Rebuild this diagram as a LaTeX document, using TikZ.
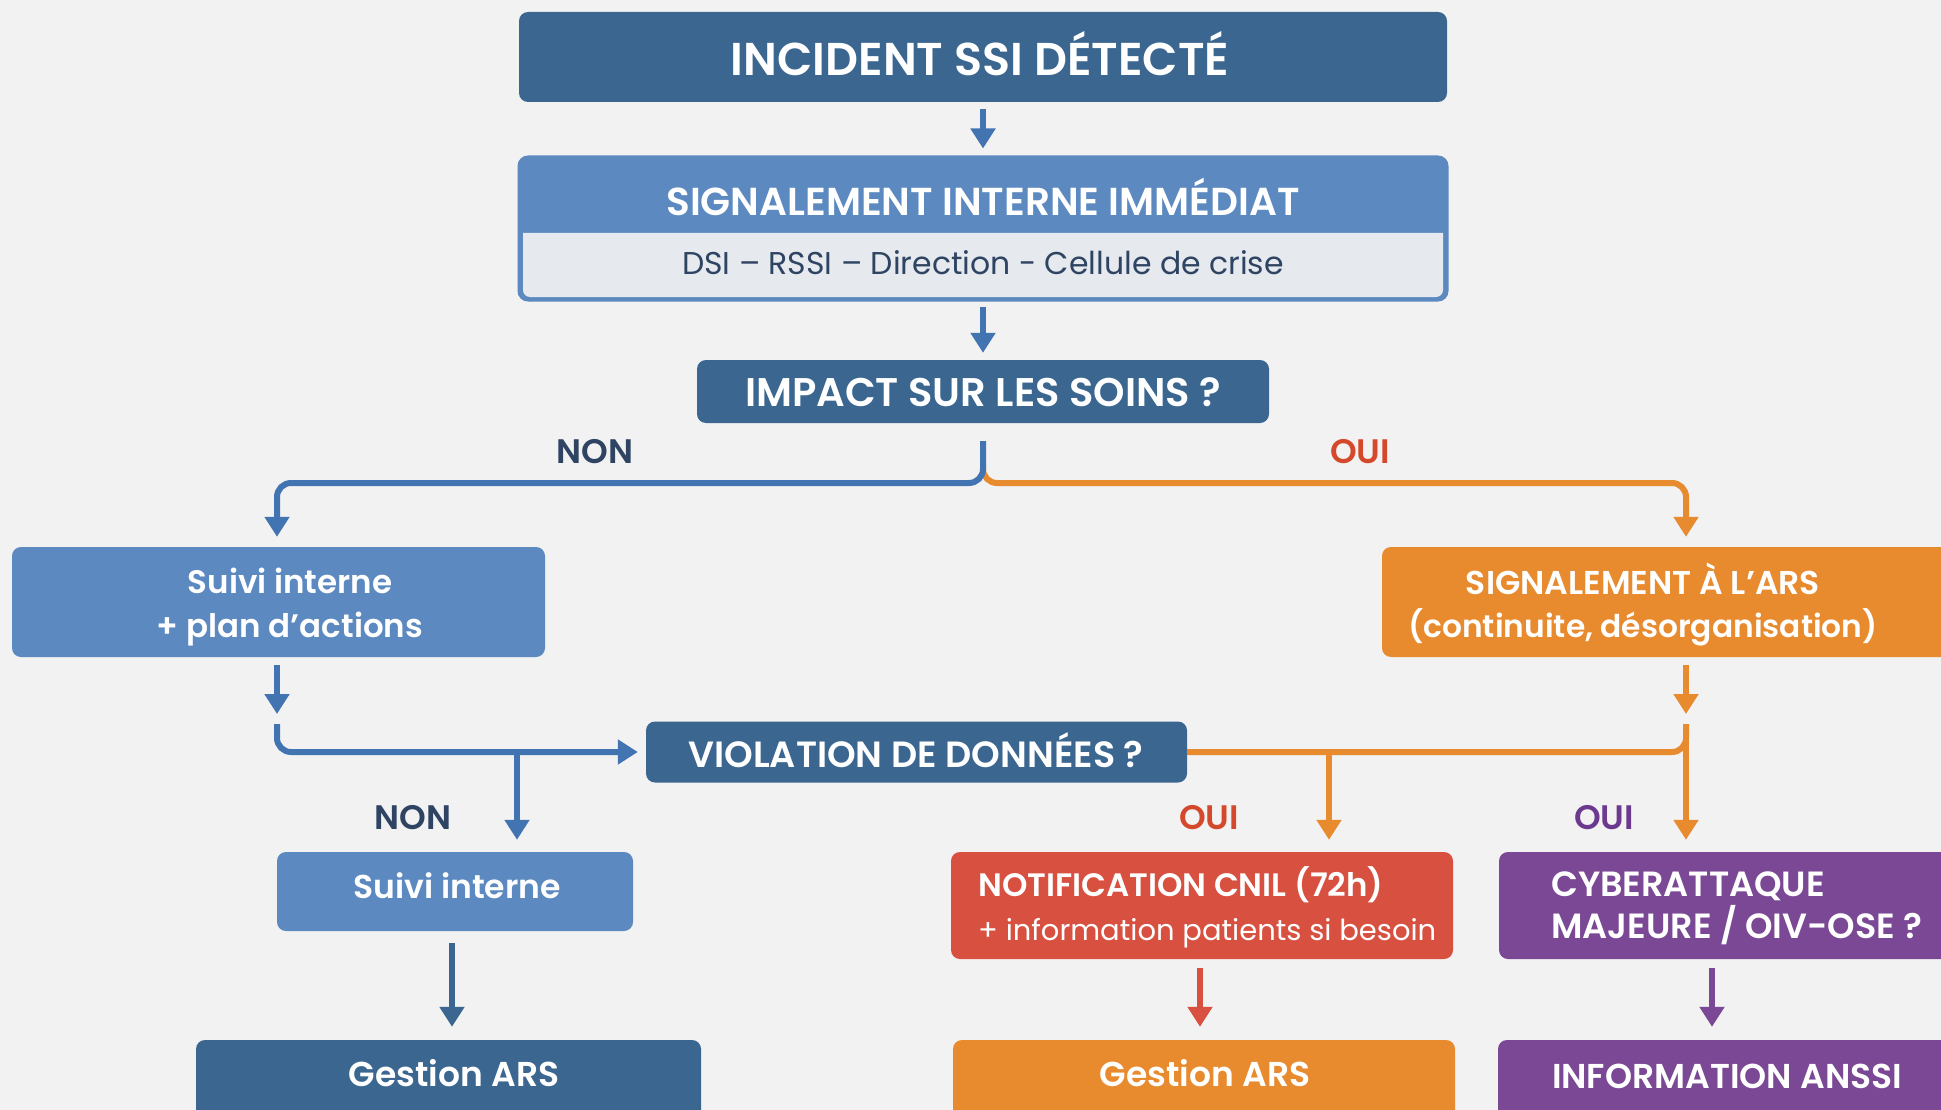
\documentclass[tikz,border=0pt]{standalone}
\usepackage{fontspec}
\setmainfont{Poppins}[BoldFont={* SemiBold}]
\usetikzlibrary{arrows.meta,calc}
\definecolor{bg}{HTML}{F2F2F2}
\definecolor{dblue}{HTML}{3A6690}
\definecolor{mblue}{HTML}{5B89C0}
\definecolor{ablue}{HTML}{4274B2}
\definecolor{lgray}{HTML}{E6E9EE}
\definecolor{orng}{HTML}{E88A2E}
\definecolor{rred}{HTML}{D8503F}
\definecolor{purp}{HTML}{7A4894}
\definecolor{navy}{HTML}{2E4462}
\definecolor{ouired}{HTML}{D4492C}
\definecolor{ouipurp}{HTML}{6B3A8F}
\newcommand{\fsz}[2]{\fontsize{#1}{#2}\selectfont}
\tikzset{
  boxnode/.style={rectangle, rounded corners=9pt, inner sep=0pt, text=white, font=\bfseries\fsz{30}{40}},
  txt/.style={inner sep=0pt, text=white, font=\bfseries\fsz{30}{40}},
  lbl/.style={inner sep=0pt, font=\bfseries\fsz{34}{38}},
  conn/.style={line width=6pt, -{Triangle[width=24pt,length=20pt]}},
  plain/.style={line width=6pt, rounded corners=14pt},
}
\begin{document}
\begin{tikzpicture}[x=1pt,y=-1pt]
\clip (0,0) rectangle (1941,1110);
\fill[bg] (0,0) rectangle (1941,1110);

% boxes
\node[boxnode, fill=dblue, minimum width=928pt, minimum height=90pt] (inc) at (983,57) {};
\node[txt, font=\bfseries\fsz{46}{50}] (inct) at (980,54) {INCIDENT SSI DÉTECTÉ};

\node[boxnode, fill=mblue, draw=mblue, line width=3pt, minimum width=928pt, minimum height=143pt] (sig) at (983,228.5) {};
\fill[lgray] (523,233) -- (1443,233) [rounded corners=7pt] -- (1443,297) -- (523,297) [sharp corners] -- cycle;
\node[txt, font=\bfseries\fsz{39}{44}] (sigh) at (983,197) {SIGNALEMENT INTERNE IMMÉDIAT};
\node[txt, text=navy, font=\fsz{31.5}{40}] (sigs) at (983,263) {DSI – RSSI – Direction - Cellule de crise};

\node[boxnode, fill=dblue, minimum width=572pt, minimum height=63pt] (imp) at (983,391.5) {};
\node[txt, font=\bfseries\fsz{40}{44}] (impt) at (983,392) {IMPACT SUR LES SOINS ?};

\node[boxnode, fill=mblue, minimum width=533pt, minimum height=110pt] (suivi1) at (278.5,602) {};
\node[txt, align=center, font=\bfseries\fsz{32.5}{44}] (suivi1t) at (290,607) {Suivi interne\\+ plan d'actions};

\node[boxnode, fill=orng, minimum width=583pt, minimum height=110pt] (ars) at (1673.5,602) {};
\node[txt, align=center, font=\bfseries\fsz{33}{43}] (arst) at (1643,604) {SIGNALEMENT À L’ARS\\\fsz{31.3}{43}(continuite, désorganisation)};

\node[boxnode, fill=dblue, minimum width=541pt, minimum height=61pt] (viol) at (916.5,752) {};
\node[txt, font=\bfseries\fsz{36.5}{40}] (violt) at (916,750) {VIOLATION DE DONNÉES ?};

\node[boxnode, fill=mblue, minimum width=356pt, minimum height=79pt] (suivi2) at (455,891.5) {};
\node[txt, font=\bfseries\fsz{33}{40}] (suivi2t) at (457,886) {Suivi interne};

\node[boxnode, fill=rred, minimum width=502pt, minimum height=107pt] (cnil) at (1202,905.5) {};
\node[txt, anchor=west, align=left, font=\bfseries\fsz{32.4}{44}] (cnilt) at (978,907) {NOTIFICATION CNIL (72h)\\\mdseries\fsz{29}{44}+ information patients si besoin};

\node[boxnode, fill=purp, minimum width=466pt, minimum height=107pt] (cyber) at (1732,905.5) {};
\node[txt, anchor=west, align=left, font=\bfseries\fsz{35}{42}] (cybert) at (1551,908) {CYBERATTAQUE\\MAJEURE / OIV-OSE ?};

\node[boxnode, fill=dblue, minimum width=505pt, minimum height=90pt] (gest1) at (448.5,1085) {};
\node[txt, font=\bfseries\fsz{34.5}{40}] (gest1t) at (454,1073) {Gestion ARS};
\node[boxnode, fill=orng, minimum width=502pt, minimum height=90pt] (gest2) at (1204,1085) {};
\node[txt, font=\bfseries\fsz{34.5}{40}] (gest2t) at (1205,1073) {Gestion ARS};
\node[boxnode, fill=purp, minimum width=467pt, minimum height=90pt] (anssi) at (1731.5,1085) {};
\node[txt, font=\bfseries\fsz{34.5}{40}] (anssit) at (1727,1076) {INFORMATION ANSSI};

% labels
\node[lbl, text=navy] (non1) at (595,452) {NON};
\node[lbl, text=ouired] (oui1) at (1360,452) {OUI};
\node[lbl, text=navy] (non2) at (413,818) {NON};
\node[lbl, text=ouired] (oui2) at (1209,818) {OUI};
\node[lbl, text=ouipurp] (oui3) at (1604,818) {OUI};

% coordinates
\coordinate (b1) at (983,441);
\coordinate (b1o) at (983,468);
\coordinate (j1) at (277,724);
\coordinate (j2) at (1686,724);
\coordinate (t1) at (517,752);
\coordinate (t2) at (1329,752);

% connectors
\draw[conn, ablue] ([yshift=-7pt]inc.south) -- ([yshift=7pt]sig.north);
\draw[conn, ablue] ([yshift=-5pt]sig.south) -- ([yshift=7pt]imp.north);

\draw[plain, orng, -{Triangle[width=24pt,length=20pt]}] (b1o) -- (983,483) -- (1686,483) -- ([yshift=10pt]ars.north -| j2);
\draw[plain, ablue, -{Triangle[width=24pt,length=20pt]}] (b1) -- (983,483) -- (277,483) -- ([yshift=10pt]suivi1.north -| j1);

\draw[conn, ablue] ([yshift=-8pt]suivi1.south -| j1) -- (277,714);
\draw[plain, ablue, -{Triangle[width=24pt,length=20pt]}] (j1) -- (j1 |- viol.west) -- ([xshift=-8pt]viol.west);
\draw[conn, ablue] (t1) -- ([yshift=12pt]suivi2.north -| t1);

\draw[conn, orng] ([yshift=-8pt]ars.south -| j2) -- (1686,714);
\draw[plain, orng] (j2) -- (j2 |- viol.east) -- (viol.east);
\draw[conn, orng] (j2) -- ([yshift=12pt]cyber.north -| j2);
\draw[conn, orng] (t2) -- ([yshift=12pt]cnil.north -| t2);

\coordinate (a1) at (452,0);
\coordinate (a2) at (1200,0);
\coordinate (a3) at (1712,0);
\draw[conn, dblue] ([yshift=-12pt]suivi2.south -| a1) -- ([yshift=13pt]gest1.north -| a1);
\draw[conn, rred] ([yshift=-9pt]cnil.south -| a2) -- ([yshift=13pt]gest2.north -| a2);
\draw[conn, purp] ([yshift=-9pt]cyber.south -| a3) -- ([yshift=13pt]anssi.north -| a3);
\end{tikzpicture}
\end{document}
